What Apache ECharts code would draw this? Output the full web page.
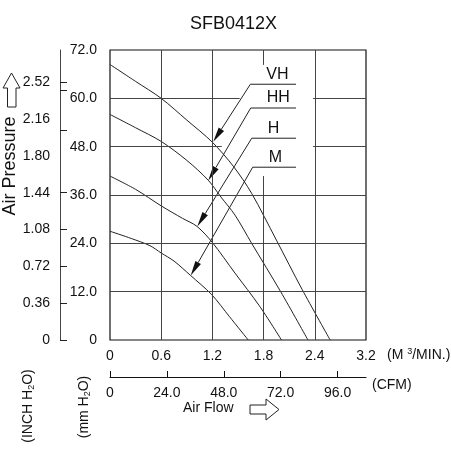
<!DOCTYPE html>
<html>
<head>
<meta charset="utf-8">
<script src="https://cdn.jsdelivr.net/npm/echarts@6/dist/echarts.min.js"></script>
<style>
html, body { margin: 0; padding: 0; background: #fff; }
#chart1 { width: 451px; height: 450px; }
</style>
</head>
<body>
<div id="chart1"></div>
<script>
// flow axis (m3/min): last tick is printed as 3.2 on the drawing
var flowLabels = ['0', '0.6', '1.2', '1.8', '2.4', '3.2'];
var cfmTicks = [0, 24, 48, 72, 96];
var mmTicks = [0, 12, 24, 36, 48, 60, 72];
var inchTicks = [0, 0.36, 0.72, 1.08, 1.44, 1.80, 2.16, 2.52];
var inchMarks = [0, 0.36, 0.72, 1.08, 1.44, 2.046, 2.437, 2.52];

var speedNames = ['VH', 'HH', 'H', 'M'];
var vhData = [[0, 68.4], [0.3, 64.2], [0.6, 60], [0.9, 54.6], [1.2, 49.1], [1.45, 43], [1.66, 36.4], [1.95, 24.8], [2.25, 12.6], [2.58, 0]];
var hhData = [[0, 56], [0.3, 52.7], [0.6, 49.3], [0.9, 44.6], [1.15, 39.7], [1.3, 35.5], [1.465, 31], [1.66, 24], [2.0, 12], [2.32, 0]];
var hData = [[0, 40.7], [0.3, 37.4], [0.6, 33.3], [0.85, 30.2], [1.02, 28.2], [1.2, 24.2], [1.465, 16.6], [1.75, 8.5], [2.01, 0]];
var mData = [[0, 27], [0.25, 25.2], [0.47, 23.4], [0.6, 21.6], [0.75, 19.6], [0.94, 16.1], [1.19, 11.3], [1.4, 5.8], [1.62, 0]];

// where each leader arrow touches its curve, and where its label sits
var arrowTips = [[1.21, 49.2], [1.152, 39.6], [1.023, 28.2], [0.946, 16.0]];
var labelAnchors = [[1.645, 63.5], [1.649, 57.6], [1.661, 50.1], [1.672, 42.9]];
var labelEndFlow = 2.18;

// grid lines, some broken around the speed labels
var gridSegments = [
    [0.6, 0, 0.6, 72], [1.2, 0, 1.2, 72], [2.4, 0, 2.4, 72],
    [1.8, 72, 1.8, 68.3], [1.8, 40.7, 1.8, 0],
    [0, 12, 3, 12], [0, 24, 3, 24], [0, 36, 3, 36],
    [0, 48, 1.31, 48], [2.38, 48, 3, 48],
    [0, 60, 1.52, 60], [2.38, 60, 3, 60]
];

var FONT = "'Liberation Sans', Arial, sans-serif";

function _initChart () {
    var myChart = echarts.init(document.getElementById('chart1'));
    var curves = [vhData, hhData, hData, mData];
    var series = curves.map(function (d, i) {
        return {
            name: speedNames[i],
            type: 'line',
            data: d,
            symbol: 'none',
            smooth: 0.3,
            silent: true,
            lineStyle: { color: '#222', width: 1 }
        };
    });
    series[0].markLine = {
        silent: true,
        symbol: 'none',
        label: { show: false },
        lineStyle: { color: '#444', width: 1, type: 'solid' },
        data: gridSegments.map(function (s) {
            return [{ coord: [s[0], s[1]] }, { coord: [s[2], s[3]] }];
        })
    };
    var labelStyle = { color: '#111', fontSize: 14, fontFamily: FONT };
    var option = {
        animation: false,
        title: {
            text: 'SFB0412X',
            left: 185,
            top: 10,
            textStyle: { color: '#111', fontSize: 18, fontWeight: 'normal', fontFamily: FONT }
        },
        grid: {
            left: 110, right: 85, top: 50, bottom: 110,
            show: true, borderColor: '#111', borderWidth: 1.2
        },
        xAxis: [
            {
                type: 'value', min: 0, max: 3, interval: 0.6,
                axisLine: { show: false }, axisTick: { show: false }, splitLine: { show: false },
                axisLabel: Object.assign({
                    margin: 9,
                    formatter: function (v) { return flowLabels[Math.round(v / 0.6)]; }
                }, labelStyle)
            },
            {
                type: 'value', min: 0, max: 108, position: 'bottom', offset: 37,
                axisLine: { show: true, onZero: false, lineStyle: { color: '#111', width: 1 } },
                axisTick: { show: true, inside: true, length: 6, customValues: cfmTicks, lineStyle: { color: '#111' } },
                splitLine: { show: false },
                axisLabel: Object.assign({
                    margin: 9, customValues: cfmTicks,
                    formatter: function (v) { return v === 0 ? '0' : v.toFixed(1); }
                }, labelStyle)
            }
        ],
        yAxis: [
            {
                type: 'value', min: 0, max: 72, interval: 12,
                axisLine: { show: false }, axisTick: { show: false }, splitLine: { show: false },
                axisLabel: Object.assign({
                    margin: 13,
                    formatter: function (v) { return v === 0 ? '0' : v.toFixed(1); }
                }, labelStyle)
            },
            {
                type: 'value', min: 0, max: 72 / 25.4, position: 'left', offset: 50,
                axisLine: { show: true, onZero: false, lineStyle: { color: '#444', width: 1 } },
                axisTick: { show: true, inside: true, length: 7, customValues: inchMarks, lineStyle: { color: '#222' } },
                splitLine: { show: false },
                axisLabel: Object.assign({
                    margin: 10, customValues: inchTicks,
                    formatter: function (v) { return v === 0 ? '0' : v.toFixed(2); }
                }, labelStyle)
            }
        ],
        series: series
    };
    myChart.setOption(option);

    // leader lines with speed labels, placed through the chart's own scales
    var els = [];
    var textStyle = { fill: '#111', fontSize: 16, fontFamily: FONT };
    for (var i = 0; i < speedNames.length; i++) {
        var a = myChart.convertToPixel({ xAxisIndex: 0, yAxisIndex: 0 }, labelAnchors[i]);
        var t = myChart.convertToPixel({ xAxisIndex: 0, yAxisIndex: 0 }, arrowTips[i]);
        var e = myChart.convertToPixel({ xAxisIndex: 0, yAxisIndex: 0 }, [labelEndFlow, labelAnchors[i][1]]);
        var dx = t[0] - a[0], dy = t[1] - a[1];
        var len = Math.sqrt(dx * dx + dy * dy);
        var ux = dx / len, uy = dy / len;
        var bx = t[0] - ux * 15, by = t[1] - uy * 15;
        els.push({ type: 'polyline', silent: true, shape: { points: [e, a, [bx, by]] }, style: { stroke: '#222', lineWidth: 1, fill: null } });
        els.push({ type: 'polygon', silent: true, shape: { points: [t, [bx - uy * 3.2, by + ux * 3.2], [bx + uy * 3.2, by - ux * 3.2]] }, style: { fill: '#111' } });
        els.push({ type: 'text', silent: true, x: a[0] + 16, y: a[1] - 2, style: Object.assign({ text: speedNames[i], textVerticalAlign: 'bottom' }, textStyle) });
    }
    var nameStyle = { fill: '#111', fontSize: 14, fontFamily: FONT };
    var subRich = { s: { fontSize: 9, fontFamily: FONT, fill: '#111', padding: [7, 0, 0, 0] } };
    var supRich = { s: { fontSize: 9, fontFamily: FONT, fill: '#111', padding: [0, 0, 7, 0] } };
    els.push(
        { type: 'text', silent: true, x: 10, y: 166, rotation: Math.PI / 2,
          style: { text: 'Air Pressure', textAlign: 'center', textVerticalAlign: 'middle', fill: '#111', fontSize: 18, fontFamily: FONT } },
        { type: 'polygon', silent: true,
          shape: { points: [[11.5, 73], [20, 88], [16, 88], [16, 107], [7.5, 107], [7.5, 88], [3, 88]] },
          style: { fill: '#fff', stroke: '#222', lineWidth: 1 } },
        { type: 'text', silent: true, x: 28, y: 406, rotation: Math.PI / 2,
          style: Object.assign({ text: '(INCH H{s|2}O)', textAlign: 'center', textVerticalAlign: 'middle', rich: subRich }, nameStyle) },
        { type: 'text', silent: true, x: 84, y: 407, rotation: Math.PI / 2,
          style: Object.assign({ text: '(mm H{s|2}O)', textAlign: 'center', textVerticalAlign: 'middle', rich: subRich }, nameStyle) },
        { type: 'text', silent: true, x: 387, y: 355,
          style: Object.assign({ text: '(M {s|3}/MIN.)', textAlign: 'left', textVerticalAlign: 'middle', rich: supRich }, nameStyle) },
        { type: 'text', silent: true, x: 372, y: 385,
          style: Object.assign({ text: '(CFM)', textAlign: 'left', textVerticalAlign: 'middle' }, nameStyle) },
        { type: 'text', silent: true, x: 183, y: 408,
          style: Object.assign({ text: 'Air Flow', textAlign: 'left', textVerticalAlign: 'middle' }, nameStyle) },
        { type: 'polygon', silent: true,
          shape: { points: [[250, 405], [266, 405], [266, 399], [279, 409.5], [266, 420], [266, 414], [250, 414]] },
          style: { fill: '#fff', stroke: '#222', lineWidth: 1 } }
    );
    myChart.setOption({ graphic: { elements: els } });
    window.onresize = myChart.resize;
}
_initChart();
</script>
</body>
</html>
